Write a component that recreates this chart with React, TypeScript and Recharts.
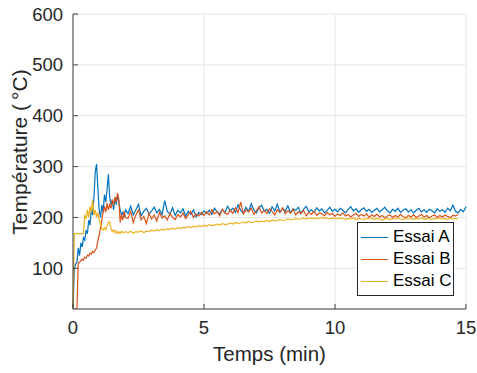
import { LineChart, Line, XAxis, YAxis, CartesianGrid } from "recharts";

// temps (min) — pas fin au début, puis 0.1 min
const temps = [
  0, 0.05, 0.1, 0.15, 0.2, 0.25, 0.3, 0.35, 0.4, 0.45,
  0.5, 0.55, 0.6, 0.65, 0.7, 0.75, 0.8, 0.85, 0.9, 0.95,
  1, 1.05, 1.1, 1.15, 1.2, 1.25, 1.3, 1.35, 1.4, 1.45,
  1.5, 1.55, 1.6, 1.65, 1.7, 1.75, 1.8, 1.85, 1.9, 1.95, 2,
  2.1, 2.2, 2.3, 2.4, 2.5, 2.6, 2.7, 2.8, 2.9, 3,
  3.1, 3.2, 3.3, 3.4, 3.5, 3.6, 3.7, 3.8, 3.9, 4,
  4.1, 4.2, 4.3, 4.4, 4.5, 4.6, 4.7, 4.8, 4.9, 5,
  5.1, 5.2, 5.3, 5.4, 5.5, 5.6, 5.7, 5.8, 5.9, 6,
  6.1, 6.2, 6.3, 6.4, 6.5, 6.6, 6.7, 6.8, 6.9, 7,
  7.1, 7.2, 7.3, 7.4, 7.5, 7.6, 7.7, 7.8, 7.9, 8,
  8.1, 8.2, 8.3, 8.4, 8.5, 8.6, 8.7, 8.8, 8.9, 9,
  9.1, 9.2, 9.3, 9.4, 9.5, 9.6, 9.7, 9.8, 9.9, 10,
  10.1, 10.2, 10.3, 10.4, 10.5, 10.6, 10.7, 10.8, 10.9, 11,
  11.1, 11.2, 11.3, 11.4, 11.5, 11.6, 11.7, 11.8, 11.9, 12,
  12.1, 12.2, 12.3, 12.4, 12.5, 12.6, 12.7, 12.8, 12.9, 13,
  13.1, 13.2, 13.3, 13.4, 13.5, 13.6, 13.7, 13.8, 13.9, 14,
  14.1, 14.2, 14.3, 14.4, 14.5, 14.6, 14.7, 14.8, 14.9, 15,
];

const essaiA = [
  20, 100, 108, 112, 140, 125, 150, 142, 160, 155,
  175, 168, 195, 185, 215, 205, 240, 290, 305, 255,
  215, 200, 225, 210, 245, 230, 255, 285, 240, 225,
  235, 215, 240, 225, 245, 230, 215, 205, 210, 200, 215,
  208, 222, 205, 215, 226, 203, 212, 218, 207, 213,
  220, 209, 216, 205, 233, 212, 207, 219, 204, 214,
  209, 217, 203, 212, 206, 215, 201, 210, 205, 213,
  208, 214, 206, 218, 211, 207, 216, 209, 222, 213,
  218, 210, 225, 214, 208, 220, 212, 227, 215, 209,
  219, 224, 212, 216, 208, 221, 213, 226, 210, 218,
  212, 223, 209, 217, 214, 220, 208, 216, 222, 211,
  215, 210, 219, 213, 217, 209, 214, 220, 212, 216,
  211, 218, 214, 209, 216, 221, 213, 217, 210, 215,
  219, 212, 216, 210, 214, 218, 211, 215, 220, 213,
  209, 216, 212, 218, 210, 214, 217, 211, 215, 209,
  214, 218, 211, 215, 210, 216, 213, 209, 217, 212,
  215, 210, 218, 213, 224, 212, 209, 216, 211, 221,
];

const essaiB = [
  20, 20, 20, 20, 110, 112, 115, 118, 116, 122,
  120, 126, 124, 130, 128, 133, 131, 136, 140, 155,
  165, 180, 195, 210, 222, 210, 228, 215, 225, 218,
  235, 225, 240, 230, 248, 235, 190, 205, 195, 212, 200,
  198, 212, 190, 205, 215, 195, 202, 188, 208, 197,
  205, 193, 210, 199, 203, 195, 208, 200, 196, 206,
  201, 209, 198, 205, 212, 200, 207, 203, 210, 204,
  211, 205, 215, 207, 212, 203, 216, 209, 206, 214,
  208, 219, 210, 230, 207, 215, 211, 218, 206, 213,
  221, 209, 214, 208, 217, 212, 205, 215, 210, 219,
  207, 213, 209, 216, 205, 211, 208, 214, 203, 210,
  206, 212, 204, 209, 207, 203, 210, 205, 208, 202,
  207, 204, 209, 203, 206, 201, 205, 208, 202, 206,
  203, 207, 200, 205, 202, 206, 201, 204, 199, 203,
  205, 200, 204, 201, 206, 202, 199, 204, 201, 205,
  200, 203, 206, 201, 204, 199, 203, 205, 200, 204,
  201, 205, 202, 200, 204, 203, 206, null, null, null,
];

const essaiC = [
  20, 168, 168, 168, 168, 168, 168, 168, 168, 205,
  198, 215, 200, 222, 210, 235, 205, 215, 200, 210,
  195, 185, 178, 175, 180, 176, 183, 190, 192, 178,
  172, 176, 170, 174, 168, 172, 169, 173, 170, 171, 172,
  170, 173, 169, 172, 171, 174, 170, 173, 172, 175,
  173, 176, 174, 177, 175, 178, 176, 179, 177, 180,
  178, 181, 179, 182, 180, 183, 181, 184, 182, 185,
  183, 186, 184, 185, 187, 185, 188, 186, 187, 189,
  187, 190, 188, 189, 191, 189, 192, 190, 191, 193,
  191, 193, 192, 194, 192, 195, 193, 194, 196, 194,
  195, 197, 195, 196, 198, 196, 197, 199, 197, 198,
  199, 197, 199, 198, 200, 198, 199, 197, 199, 198,
  197, 199, 198, 196, 198, 197, 199, 196, 198, 197,
  196, 198, 197, 199, 196, 198, 197, 195, 197, 198,
  196, 198, 197, 199, 197, 196, 198, 197, 199, 196,
  198, 197, 199, 196, 198, 197, 196, 198, 197, 199,
  197, 198, 196, 199, 197, 198, 197, null, null, null,
];

const xTicks = [0, 5, 10, 15];
const yTicks = [100, 200, 300, 400, 500, 600];

const series = [
  { key: "a", name: "Essai A", color: "#0072BD" },
  { key: "b", name: "Essai B", color: "#D95319" },
  { key: "c", name: "Essai C", color: "#EDB120" },
];

const data = temps.map((t, i) => ({ t, a: essaiA[i], b: essaiB[i], c: essaiC[i] }));

const FONT = "'Liberation Sans', Arial, Helvetica, sans-serif";
const INK = "#262626";

export default function App() {
  return (
    <div style={{ position: "absolute", left: 0, top: 0, width: 477, height: 373, background: "#fff", fontFamily: FONT }}>
      <LineChart width={477} height={373} data={data} margin={{ top: 14, right: 11, left: 0, bottom: 0 }}>
        <CartesianGrid stroke="#e6e6e6" strokeWidth={1} />
        <XAxis
          dataKey="t"
          type="number"
          domain={[0, 15]}
          ticks={xTicks}
          height={64}
          stroke="#404040"
          tickSize={-5}
          tickMargin={17}
          tick={{ fill: INK, fontSize: 18.5, fontFamily: FONT }}
          label={{ value: "Temps (min)", position: "insideBottom", offset: 12, fill: INK, fontSize: 20.5, fontFamily: FONT }}
        />
        <YAxis
          type="number"
          domain={[20, 600]}
          ticks={yTicks}
          width={73}
          allowDataOverflow
          stroke="#404040"
          tickSize={-5}
          tickMargin={15}
          tick={{ fill: INK, fontSize: 18.5, fontFamily: FONT }}
          label={{
            content: () => (
              <text x={27} y={152} transform="rotate(-90 27 152)" textAnchor="middle" fill={INK} fontSize={21} fontFamily={FONT}>
                Température (<tspan dx={4}>°C)</tspan>
              </text>
            ),
          }}
        />
        {series.map((s) => (
          <Line
            key={s.key}
            dataKey={s.key}
            name={s.name}
            stroke={s.color}
            strokeWidth={1.2}
            dot={false}
            activeDot={false}
            type="linear"
            isAnimationActive={false}
          />
        ))}
      </LineChart>
      <div
        style={{
          position: "absolute",
          left: 357,
          top: 222,
          width: 97,
          height: 74,
          border: `1px solid ${INK}`,
          background: "#fff",
          fontSize: 17,
          color: "#000",
          paddingTop: 3,
          boxSizing: "border-box",
        }}
      >
        {series.map((s) => (
          <div key={s.key} style={{ display: "flex", alignItems: "center", height: 22 }}>
            <span style={{ display: "inline-block", width: 27, borderTop: `1px solid ${s.color}`, marginLeft: 3, marginRight: 5 }} />
            <span>{s.name}</span>
          </div>
        ))}
      </div>
    </div>
  );
}
